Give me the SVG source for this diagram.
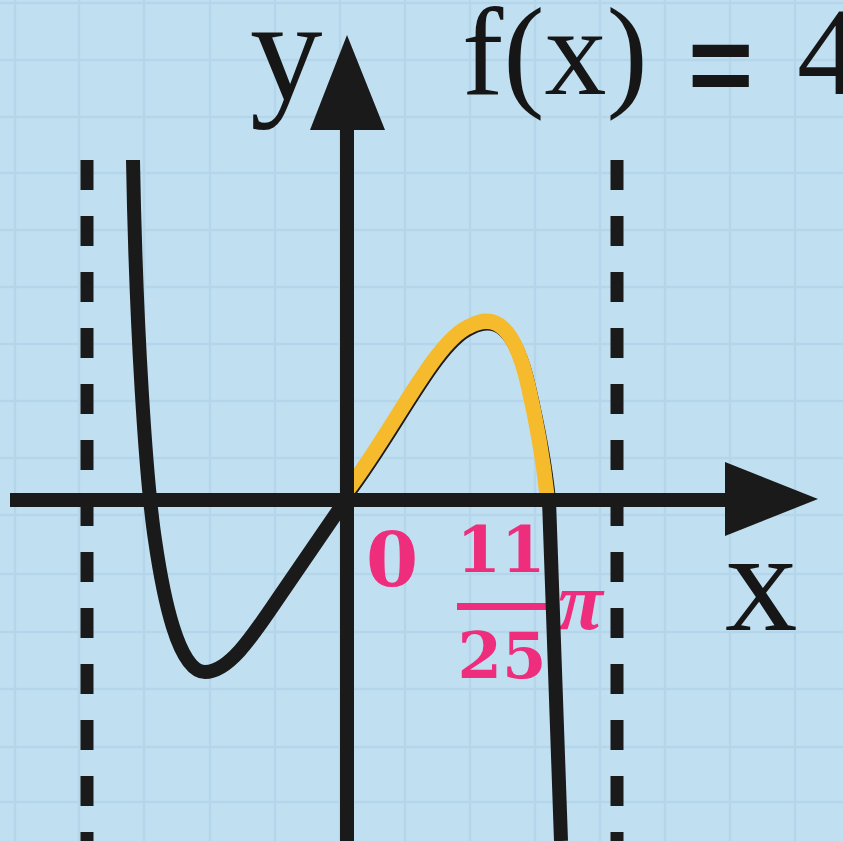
<svg xmlns="http://www.w3.org/2000/svg" width="843" height="841" viewBox="0 0 843 841">
<style>
.grid line{stroke:#b5d6ea;stroke-width:2.5}
.dash{stroke:#1a1a1a;stroke-width:13;stroke-dasharray:30 26;fill:none}
.ax{stroke:#1a1a1a;stroke-width:14;fill:none}
.curve{stroke:#1a1a1a;stroke-width:14;fill:none;stroke-linecap:butt}
.yel{stroke:#f5bb2d;stroke-width:15;fill:none}
.lbl{font-family:"Liberation Serif","Times New Roman",serif;fill:#161616}
.pk{font-family:"DejaVu Serif","Liberation Serif",serif;font-weight:bold;fill:#ee2d7c}
</style>
<rect width="843" height="841" fill="#c0e0f2"/>
<g id="grid" class="grid">
<line x1="15" y1="0" x2="15" y2="841"/><line x1="79" y1="0" x2="79" y2="841"/><line x1="144" y1="0" x2="144" y2="841"/><line x1="210" y1="0" x2="210" y2="841"/><line x1="275" y1="0" x2="275" y2="841"/><line x1="340" y1="0" x2="340" y2="841"/><line x1="405" y1="0" x2="405" y2="841"/><line x1="470" y1="0" x2="470" y2="841"/><line x1="535" y1="0" x2="535" y2="841"/><line x1="600" y1="0" x2="600" y2="841"/><line x1="665" y1="0" x2="665" y2="841"/><line x1="730" y1="0" x2="730" y2="841"/><line x1="795" y1="0" x2="795" y2="841"/>
<line x1="0" y1="3" x2="843" y2="3"/><line x1="0" y1="60" x2="843" y2="60"/><line x1="0" y1="117" x2="843" y2="117"/><line x1="0" y1="173" x2="843" y2="173"/><line x1="0" y1="230" x2="843" y2="230"/><line x1="0" y1="287" x2="843" y2="287"/><line x1="0" y1="344" x2="843" y2="344"/><line x1="0" y1="401" x2="843" y2="401"/><line x1="0" y1="458" x2="843" y2="458"/><line x1="0" y1="515" x2="843" y2="515"/><line x1="0" y1="574" x2="843" y2="574"/><line x1="0" y1="632" x2="843" y2="632"/><line x1="0" y1="689" x2="843" y2="689"/><line x1="0" y1="747" x2="843" y2="747"/><line x1="0" y1="802" x2="843" y2="802"/>
</g>
<g id="asymptotes">
<line class="dash" x1="87" y1="160" x2="87" y2="841"/>
<line class="dash" x1="617" y1="160" x2="617" y2="841"/>
</g>
<g id="labels">
<text class="pk" x="392" y="586" font-size="75" text-anchor="middle">0</text>
<text class="pk" x="501" y="572" font-size="64" text-anchor="middle">11</text>
<rect x="457" y="603" width="89" height="7" fill="#ee2d7c"/>
<text class="pk" x="502" y="678" font-size="64" text-anchor="middle">25</text>
<text class="pk" x="558" y="629" style="font-family:'Liberation Serif',serif;font-style:italic;font-size:82px">π</text>
</g>
<g id="graph">
<path class="curve" d="M133,160 C136,330 146,480 155,540 C163,595 178,672 205,672 C228,672 250,640 277,600 C300,566 325,530 349,495"/>
<path class="curve" d="M347,495 C396,431 436,343 471,328 C497,314 516,330 529,387 C539,430 546,470 549,500 C553,610 557,720 561,841"/>
<path class="yel" d="M347,491 C395,428 435,340 470,326 C496,312 515,328 528,385 C538,428 544,468 547,495"/>
</g>
<g id="axes">
<line class="ax" x1="10" y1="500" x2="735" y2="500"/>
<polygon points="725,462 818,499 725,536" fill="#1a1a1a"/>
<line class="ax" x1="347" y1="841" x2="347" y2="125"/>
<polygon points="310,130 347,35 385,130" fill="#1a1a1a"/>
</g>
<g id="titles">
<text class="lbl" x="250" y="99" font-size="145">y</text>
<text class="lbl" x="725" y="630" font-size="145">x</text>
<text class="lbl" x="462" y="94" font-size="124">f(x)<tspan x="688" y="103" style="font-family:'Liberation Sans',sans-serif;font-weight:bold;font-size:112px">=</tspan><tspan x="797" y="94">4</tspan></text>
</g>
</svg>
